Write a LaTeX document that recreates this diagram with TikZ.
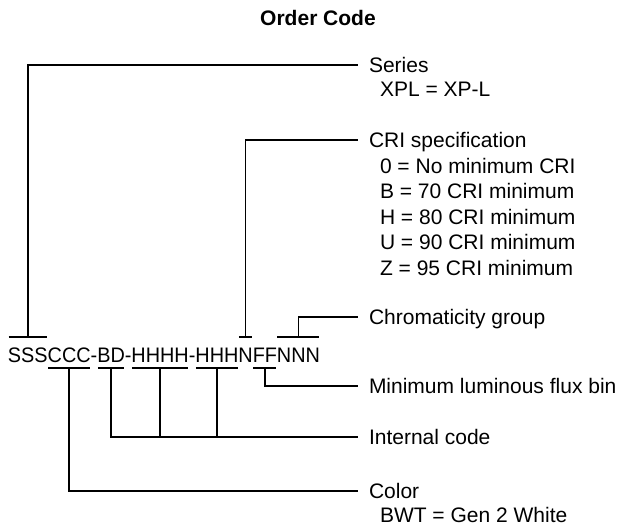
\documentclass[tikz,border=0pt]{standalone}
\usepackage{fontspec}
\setmainfont{Liberation Sans}
\newfontfamily\codefont[FakeStretch=0.945]{Liberation Sans}
\begin{document}
\begin{tikzpicture}[x=1pt,y=-1pt,
  every node/.style={inner sep=0pt,outer sep=0pt},
  conn/.style={line width=1.6pt,line join=miter},
  codeseg/.style={font=\codefont\fontsize{21}{25}\selectfont,anchor=base west,text height=15pt,text depth=0pt},
  lbl/.style={font=\fontsize{21}{25}\selectfont,anchor=west,text height=15pt,text depth=0pt,inner xsep=11pt,inner ysep=0pt},
  sublbl/.style={lbl,inner xsep=22pt},
  titlestyle/.style={font=\bfseries\fontsize{21}{25}\selectfont}]
\useasboundingbox (0,0) rectangle (627,527);

\node[titlestyle] (title) at (318,18) {Order Code};

% code segments
\node[codeseg] (c1) at (8,362) {SSS};
\node[codeseg] (c2) at (c1.base east) {CCC};
\node[codeseg] (c3) at (c2.base east) {-};
\node[codeseg] (c4) at (c3.base east) {BD};
\node[codeseg] (c5) at (c4.base east) {-};
\node[codeseg] (c6) at (c5.base east) {HHHH};
\node[codeseg] (c7) at (c6.base east) {-};
\node[codeseg] (c8) at (c7.base east) {HHH};
\node[codeseg] (c9) at (c8.base east) {N};
\node[codeseg] (c10) at (c9.base east) {FF};
\node[codeseg] (c11) at (c10.base east) {NNN};

% labels
\node[lbl] (series) at (358,65) {Series};
\node[sublbl] (xpl) at (358,89) {XPL = XP-L};
\node[lbl] (cri) at (358,140) {CRI specification};
\node[sublbl] (cri0) at (358,165.6) {0 = No minimum CRI};
\node[sublbl] (criB) at (358,191.2) {B = 70 CRI minimum};
\node[sublbl] (criH) at (358,216.8) {H = 80 CRI minimum};
\node[sublbl] (criU) at (358,242.4) {U = 90 CRI minimum};
\node[sublbl] (criZ) at (358,268) {Z = 95 CRI minimum};
\node[lbl] (chrom) at (358,317) {Chromaticity group};
\node[lbl] (flux) at (358,386) {Minimum luminous flux bin};
\node[lbl] (internal) at (358,437) {Internal code};
\node[lbl] (color) at (358,491) {Color};
\node[sublbl] (bwt) at (358,515) {BWT = Gen 2 White};

% bars above
\foreach \n in {c1,c9,c11}
  \draw[conn] ([yshift=10pt,xshift=0.5pt]\n.north west) -- ([yshift=10pt,xshift=-0.5pt]\n.north east);
% bars below
\foreach \n in {c2,c4,c6,c8,c10}
  \draw[conn] ([yshift=-6pt,xshift=0.5pt]\n.south west) -- ([yshift=-6pt,xshift=-0.5pt]\n.south east);

% connectors
\draw[conn] ([yshift=10pt]c1.north) |- (series.west);
\draw[conn] ([yshift=10pt]c9.north) |- (cri.west);
\draw[conn] ([yshift=10pt]c11.north) |- (chrom.west);
\draw[conn] ([yshift=-6pt]c10.south) |- (flux.west);
\draw[conn] ([yshift=-6pt]c4.south) |- (internal.west);
\draw[conn] ([yshift=-6pt]c6.south) -- (c6.south |- internal.west);
\draw[conn] ([yshift=-6pt]c8.south) -- (c8.south |- internal.west);
\draw[conn] ([yshift=-6pt]c2.south) |- (color.west);
\end{tikzpicture}
\end{document}
